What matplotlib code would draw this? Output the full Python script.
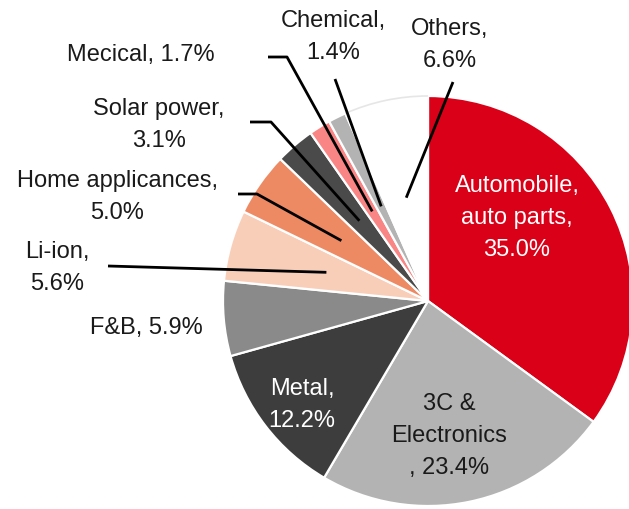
import numpy as np
import matplotlib.pyplot as plt
from matplotlib.patches import Arc

# sector shares (%), clockwise from 12 o'clock
names = ['Automobile,\nauto parts,\n', '3C &\nElectronics\n, ', 'Metal,\n', 'F&B, ',
         'Li-ion,\n', 'Home applicances,\n', 'Solar power,\n', 'Mecical, ',
         'Chemical,\n', 'Others,\n']
shares = [35.0, 23.4, 12.2, 5.9, 5.6, 5.0, 3.1, 1.7, 1.4, 6.6]
colors = ['#D90017', '#B3B3B3', '#3D3D3D', '#8A8A8A', '#F9CEB9',
          '#EE8A63', '#4A4A4A', '#F98585', '#B3B3B3', '#FFFFFF']

W, H = 629, 510
def py(y):
    return H - y

plt.rcParams['font.family'] = ['Liberation Sans', 'DejaVu Sans']

fig = plt.figure(figsize=(W / 100, H / 100), dpi=100)
ax = fig.add_axes([0, 0, 1, 1])

cx, cy, R = 428, py(302), 205
wedges, _ = ax.pie(shares, colors=colors, startangle=90, counterclock=False,
                   center=(cx, cy), radius=R, frame=True,
                   wedgeprops=dict(edgecolor='white', linewidth=1.6))
ax.set_xlim(0, W)
ax.set_ylim(0, H)
ax.set_aspect('equal')
ax.axis('off')

# faint outline of the white "Others" slice
wo = wedges[-1]
ax.add_patch(Arc((cx, cy), 2 * R, 2 * R, theta1=wo.theta1, theta2=wo.theta2,
                 color='#e6e6e6', lw=1.2))

labels = [n + f'{v:.1f}%' for n, v in zip(names, shares)]
# label centres in pixel coords and text colours
lab_pos = [(517, 218), (449, 436), (302, 405), (146, 328), (57, 268),
           (117, 197), (159, 125), (141, 55), (333, 37), (450, 45)]
lab_col = ['white', '#1a1a1a', 'white', '#1a1a1a', '#1a1a1a', '#1a1a1a',
           '#1a1a1a', '#1a1a1a', '#1a1a1a', '#1a1a1a']
for lab, (x, y), c in zip(labels, lab_pos, lab_col):
    ax.text(x, py(y), lab, ha='center', va='center', fontsize=17, color=c,
            linespacing=1.6)

# leader lines: outer path (px) -> point inside the wedge
leaders = {4: [(108, 267)],
           5: [(238, 195), (257, 195)],
           6: [(250, 123), (271, 123)],
           7: [(268, 58), (287, 58)],
           8: [(335, 80)],
           9: [(453, 83)]}
for i, pts in leaders.items():
    w = wedges[i]
    th = np.deg2rad((w.theta1 + w.theta2) / 2)
    ex, ey = cx + 0.515 * R * np.cos(th), cy + 0.515 * R * np.sin(th)
    xs = [p[0] for p in pts] + [ex]
    ys = [py(p[1]) for p in pts] + [ey]
    ax.plot(xs, ys, color='black', lw=2, solid_capstyle='butt')

fig.savefig('out.png', dpi=100)
